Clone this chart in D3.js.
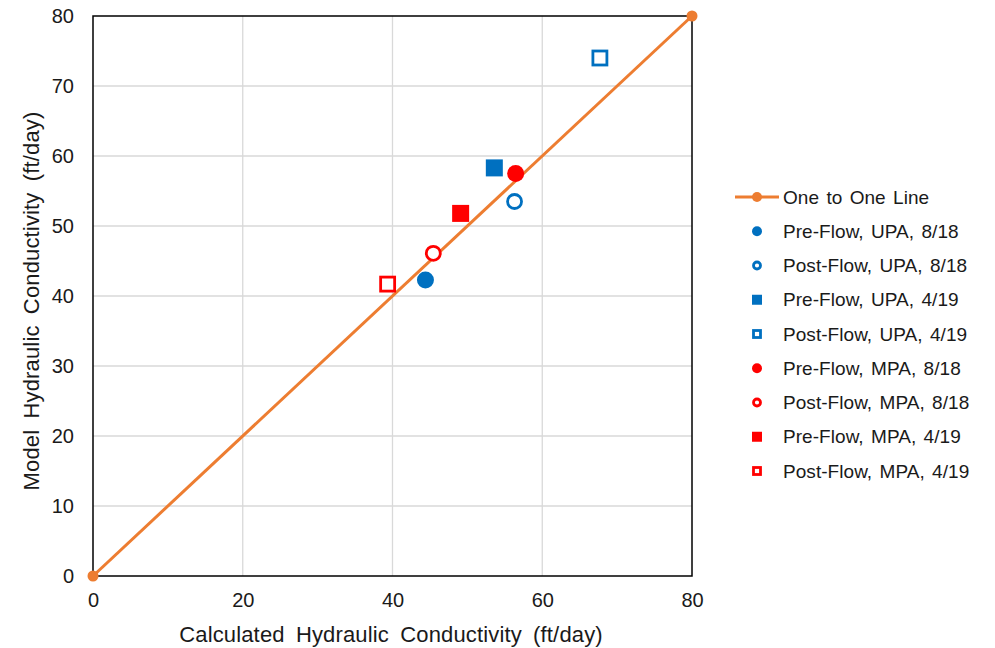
<!DOCTYPE html>
<html><head><meta charset="utf-8">
<script src="https://cdn.jsdelivr.net/npm/d3@7"></script>
<style>body{margin:0;background:#fff;font-family:"Liberation Sans",Arial,sans-serif;}</style>
</head><body>
<svg id="c" width="995" height="648"></svg>
<script>
const xTicks = [0, 20, 40, 60, 80];
const yTicks = [0, 10, 20, 30, 40, 50, 60, 70, 80];
const oneToOne = [[0, 0], [80, 80]];
const seriesNames = ["Pre-Flow, UPA, 8/18","Post-Flow, UPA, 8/18","Pre-Flow, UPA, 4/19","Post-Flow, UPA, 4/19","Pre-Flow, MPA, 8/18","Post-Flow, MPA, 8/18","Pre-Flow, MPA, 4/19","Post-Flow, MPA, 4/19"];
const seriesX = [44.4, 56.3, 53.6, 67.7, 56.45, 45.45, 49.1, 39.35];
const seriesY = [42.3, 53.5, 58.3, 74.0, 57.5, 46.1, 51.8, 41.7];
const seriesColor = ["#0070C0","#0070C0","#0070C0","#0070C0","#FF0000","#FF0000","#FF0000","#FF0000"];
const seriesShape = ["circle","circle","square","square","circle","circle","square","square"];
const seriesFilled = [true,false,true,false,true,false,true,false];

const svg = d3.select("#c");
const L=93, R=692, T=16, B=576;
const x = d3.scaleLinear().domain([0,80]).range([L,R]);
const y = d3.scaleLinear().domain([0,80]).range([B,T]);
const txt = "#1a1a1a";

// grid
svg.append("g").selectAll("line").data(xTicks.slice(1,-1)).join("line")
  .attr("x1",d=>x(d)).attr("x2",d=>x(d)).attr("y1",T).attr("y2",B)
  .attr("stroke","#D9D9D9").attr("stroke-width",1.3);
svg.append("g").selectAll("line").data(yTicks.slice(1,-1)).join("line")
  .attr("y1",d=>y(d)).attr("y2",d=>y(d)).attr("x1",L).attr("x2",R)
  .attr("stroke","#D9D9D9").attr("stroke-width",1.3);

// axes
const xa = svg.append("g").attr("transform",`translate(0,${B})`)
  .call(d3.axisBottom(x).tickValues(xTicks).tickSize(0).tickPadding(17));
const ya = svg.append("g").attr("transform",`translate(${L},0)`)
  .call(d3.axisLeft(y).tickValues(yTicks).tickSize(0).tickPadding(19));
[xa,ya].forEach(a=>{a.select(".domain").remove();
  a.selectAll("text").attr("font-size",20).attr("fill",txt).attr("font-family","Liberation Sans, Arial, sans-serif");});
svg.append("rect").attr("x",L).attr("y",T).attr("width",R-L).attr("height",B-T)
  .attr("fill","none").attr("stroke","#000").attr("stroke-width",1.5);

// titles
svg.append("text").attr("x",391).attr("y",642).attr("text-anchor","middle")
  .attr("font-size",22).attr("word-spacing",5).attr("letter-spacing",0.15).attr("fill",txt).text("Calculated Hydraulic Conductivity (ft/day)");
svg.append("text").attr("transform",`translate(38.5,301) rotate(-90)`).attr("text-anchor","middle")
  .attr("font-size",22).attr("word-spacing",5).attr("letter-spacing",0.15).attr("fill",txt).text("Model Hydraulic Conductivity (ft/day)");

// one-to-one line
const orange="#ED7D31";
svg.append("path").datum(oneToOne)
  .attr("d",d3.line().x(d=>x(d[0])).y(d=>y(d[1])))
  .attr("stroke",orange).attr("stroke-width",3).attr("fill","none");
svg.append("g").selectAll("circle").data(oneToOne).join("circle")
  .attr("cx",d=>x(d[0])).attr("cy",d=>y(d[1])).attr("r",5.5).attr("fill",orange);

// markers
function drawMarker(g, shape, filled, color, cx, cy, size){
  if(shape==="circle"){
    const r = filled ? size/2 : size/2 - 1.5;
    g.append("circle").attr("cx",cx).attr("cy",cy).attr("r",r)
      .attr("fill",filled?color:"#fff").attr("stroke",filled?"none":color).attr("stroke-width",filled?0:2.8);
  } else {
    const s = filled ? size : size - 3;
    g.append("rect").attr("x",cx-s/2).attr("y",cy-s/2).attr("width",s).attr("height",s)
      .attr("fill",filled?color:"#fff").attr("stroke",filled?"none":color).attr("stroke-width",filled?0:2.8);
  }
}
const pg = svg.append("g");
seriesNames.forEach((n,i)=>drawMarker(pg, seriesShape[i], seriesFilled[i], seriesColor[i], x(seriesX[i]), y(seriesY[i]), 17));

// legend
const lg = svg.append("g");
const ly0 = 197, ldy = 34.25;
lg.append("line").attr("x1",735).attr("x2",779).attr("y1",ly0).attr("y2",ly0).attr("stroke",orange).attr("stroke-width",3);
lg.append("circle").attr("cx",757).attr("cy",ly0).attr("r",5).attr("fill",orange);
lg.append("text").attr("x",783).attr("y",ly0+6.5).attr("font-size",19).attr("word-spacing",2).attr("letter-spacing",0.05).attr("fill",txt).text("One to One Line");
seriesNames.forEach((n,i)=>{
  const yy = ly0 + ldy*(i+1);
  drawMarker(lg, seriesShape[i], seriesFilled[i], seriesColor[i], 757, yy, 10);
  lg.append("text").attr("x",783).attr("y",yy+6.5).attr("font-size",19).attr("word-spacing",2).attr("letter-spacing",0.05).attr("fill",txt).text(n);
});
</script>
</body></html>
